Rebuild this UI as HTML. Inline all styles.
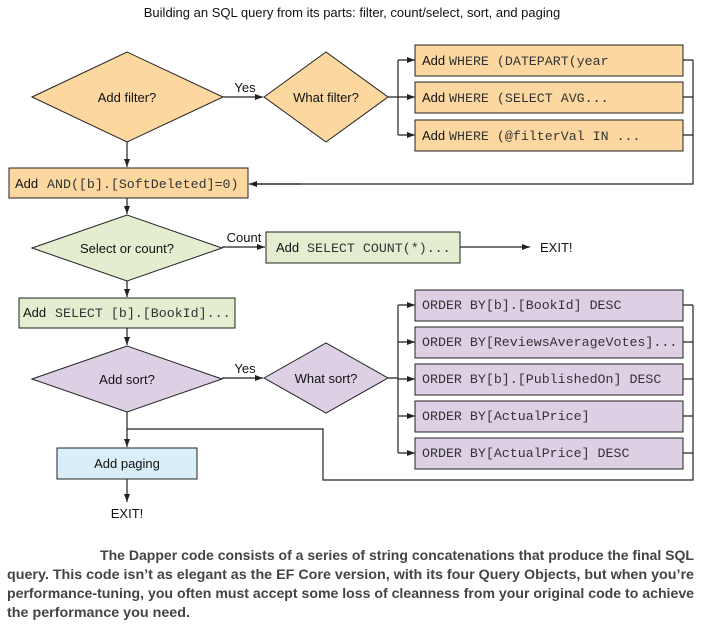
<!DOCTYPE html>
<html><head><meta charset="utf-8"><style>
html,body{margin:0;padding:0;background:#fff;}
svg{display:block;}
.t{font-family:"Liberation Sans",sans-serif;font-size:13px;fill:#111;}
.m{font-family:"Liberation Mono",monospace;font-size:13.3px;fill:#333;}
.p{font-family:"Liberation Sans",sans-serif;font-size:14px;font-weight:bold;fill:#444;}
.l{stroke:#222;stroke-width:1.2;fill:none;}
.b{stroke:#222;stroke-width:1;}
</style></head><body>
<svg width="701" height="625" viewBox="0 0 701 625" xmlns="http://www.w3.org/2000/svg">
<defs><marker id="a" markerWidth="8" markerHeight="6" refX="8" refY="3" orient="auto" markerUnits="userSpaceOnUse"><path d="M0,0 L8,3 L0,6 z" fill="#222"/></marker></defs>
<text class="t" x="352" y="17" text-anchor="middle" font-size="14">Building an SQL query from its parts: filter, count/select, sort, and paging</text>

<polygon class="b" fill="#fcd8a0" points="32,97 127,52 223,97 127,142"/>
<text class="t" x="127" y="102" text-anchor="middle">Add filter?</text>
<line class="l" x1="223" y1="97" x2="263" y2="97" marker-end="url(#a)"/>
<text class="t" x="245" y="92" text-anchor="middle">Yes</text>
<polygon class="b" fill="#fcd8a0" points="264,97 326,52 388,97 326,142"/>
<text class="t" x="326" y="102" text-anchor="middle">What filter?</text>
<path class="l" d="M388,97 H398 M398,60 V135"/>
<line class="l" x1="398" y1="60" x2="415" y2="60" marker-end="url(#a)"/>
<line class="l" x1="398" y1="97" x2="415" y2="97" marker-end="url(#a)"/>
<line class="l" x1="398" y1="135" x2="415" y2="135" marker-end="url(#a)"/>
<rect class="b" fill="#fcd8a0" x="415" y="45" width="268" height="31"/>
<rect class="b" fill="#fcd8a0" x="415" y="82" width="268" height="31"/>
<rect class="b" fill="#fcd8a0" x="415" y="120" width="268" height="31"/>
<text class="t" x="422" y="65">Add</text><text class="m" x="449" y="65">WHERE (DATEPART(year</text>
<text class="t" x="422" y="102">Add</text><text class="m" x="449" y="102">WHERE (SELECT AVG...</text>
<text class="t" x="422" y="140">Add</text><text class="m" x="449" y="140">WHERE (@filterVal IN ...</text>
<path class="l" d="M683,60 H693 M683,97 H693 M683,135 H693 M693,60 V184 H250"/>
<line class="l" x1="300" y1="184" x2="249" y2="184" marker-end="url(#a)"/>
<line class="l" x1="127" y1="142" x2="127" y2="167" marker-end="url(#a)"/>
<rect class="b" fill="#fcd8a0" x="9" y="168" width="239" height="30"/>
<text class="t" x="15" y="188">Add</text><text class="m" x="47" y="188">AND([b].[SoftDeleted]=0)</text>
<line class="l" x1="127" y1="198" x2="127" y2="214" marker-end="url(#a)"/>

<polygon class="b" fill="#e3edd0" points="32,248 127,215 222,248 127,281"/>
<text class="t" x="127" y="253" text-anchor="middle">Select or count?</text>
<line class="l" x1="222" y1="247" x2="265" y2="247" marker-end="url(#a)"/>
<text class="t" x="244" y="242" text-anchor="middle">Count</text>
<rect class="b" fill="#e3edd0" x="266" y="232" width="194" height="31"/>
<text class="t" x="276" y="252">Add</text><text class="m" x="307" y="252">SELECT COUNT(*)...</text>
<line class="l" x1="460" y1="247" x2="530" y2="247" marker-end="url(#a)"/>
<text class="t" x="540" y="252">EXIT!</text>
<line class="l" x1="127" y1="281" x2="127" y2="297" marker-end="url(#a)"/>
<rect class="b" fill="#e3edd0" x="19" y="298" width="216" height="30"/>
<text class="t" x="23" y="317">Add</text><text class="m" x="55" y="317">SELECT [b].[BookId]...</text>
<line class="l" x1="127" y1="328" x2="127" y2="345" marker-end="url(#a)"/>

<polygon class="b" fill="#ddd0e5" points="32,379 127,346 222,379 127,412"/>
<text class="t" x="127" y="384" text-anchor="middle">Add sort?</text>
<line class="l" x1="222" y1="378" x2="263" y2="378" marker-end="url(#a)"/>
<text class="t" x="245" y="373" text-anchor="middle">Yes</text>
<polygon class="b" fill="#ddd0e5" points="264,378 326,343 388,378 326,413"/>
<text class="t" x="326" y="383" text-anchor="middle">What sort?</text>
<path class="l" d="M388,378 H398 M398,305 V453"/>
<line class="l" x1="398" y1="305" x2="415" y2="305" marker-end="url(#a)"/>
<line class="l" x1="398" y1="342" x2="415" y2="342" marker-end="url(#a)"/>
<line class="l" x1="398" y1="379" x2="415" y2="379" marker-end="url(#a)"/>
<line class="l" x1="398" y1="416" x2="415" y2="416" marker-end="url(#a)"/>
<line class="l" x1="398" y1="453" x2="415" y2="453" marker-end="url(#a)"/>
<rect class="b" fill="#ddd0e5" x="415" y="290" width="268" height="31"/>
<rect class="b" fill="#ddd0e5" x="415" y="327" width="268" height="31"/>
<rect class="b" fill="#ddd0e5" x="415" y="364" width="268" height="31"/>
<rect class="b" fill="#ddd0e5" x="415" y="401" width="268" height="31"/>
<rect class="b" fill="#ddd0e5" x="415" y="438" width="268" height="31"/>
<text class="m" x="422" y="309">ORDER BY[b].[BookId] DESC</text>
<text class="m" x="422" y="346">ORDER BY[ReviewsAverageVotes]...</text>
<text class="m" x="422" y="383">ORDER BY[b].[PublishedOn] DESC</text>
<text class="m" x="422" y="420">ORDER BY[ActualPrice]</text>
<text class="m" x="422" y="457">ORDER BY[ActualPrice] DESC</text>
<path class="l" d="M683,305 H693 M683,342 H693 M683,379 H693 M683,416 H693 M683,453 H693 M693,305 V480 H323 V429 H127"/>
<line class="l" x1="127" y1="412" x2="127" y2="447" marker-end="url(#a)"/>
<rect class="b" fill="#d9eef9" x="57" y="448" width="140" height="31"/>
<text class="t" x="127" y="468" text-anchor="middle">Add paging</text>
<line class="l" x1="127" y1="479" x2="127" y2="502" marker-end="url(#a)"/>
<text class="t" x="127" y="518" text-anchor="middle">EXIT!</text>

<text class="p" x="100" y="560" textLength="594" lengthAdjust="spacingAndGlyphs">The Dapper code consists of a series of string concatenations that produce the final SQL</text>
<text class="p" x="7" y="579" textLength="687" lengthAdjust="spacingAndGlyphs">query. This code isn’t as elegant as the EF Core version, with its four Query Objects, but when you’re</text>
<text class="p" x="7" y="598" textLength="687" lengthAdjust="spacingAndGlyphs">performance-tuning, you often must accept some loss of cleanness from your original code to achieve</text>
<text class="p" x="7" y="617" textLength="183" lengthAdjust="spacingAndGlyphs">the performance you need.</text>
</svg>
</body></html>
